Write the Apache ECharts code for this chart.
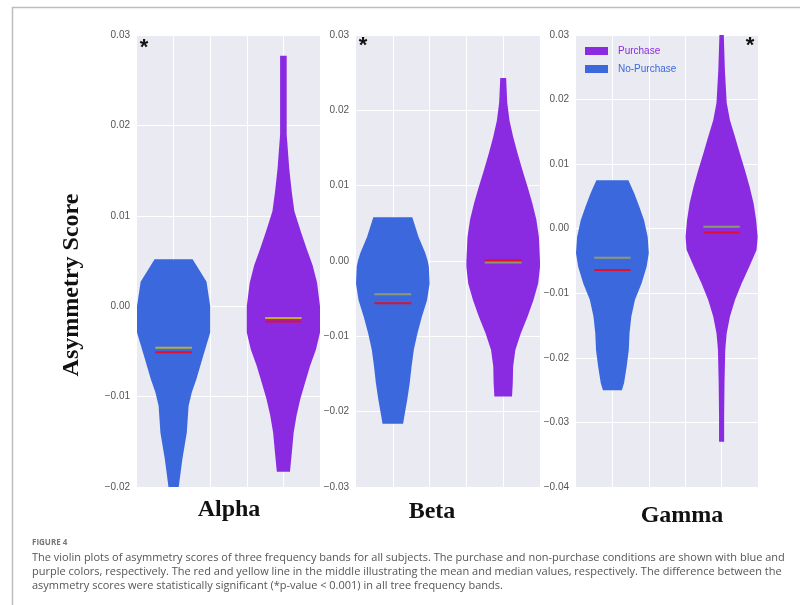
<!DOCTYPE html>
<html>
<head>
<meta charset="utf-8">
<script src="https://cdn.jsdelivr.net/npm/echarts@6/dist/echarts.min.js"></script>
<style>
html,body{margin:0;padding:0;background:#fff;}
#chart{width:800px;height:605px;}
</style>
</head>
<body>
<div id="chart"></div>
<script>
// ---- data ----
const bands = ['Alpha', 'Beta', 'Gamma'];
const groups = ['No-Purchase', 'Purchase'];
const yMin = [-0.02, -0.03, -0.04];
const yMax = [0.03, 0.03, 0.03];
const yStep = 0.01;

// violin profiles: [score, relative density width]
const alphaNoPurchase = [[0.0052,0.52],[0.0027,0.90],[0.0,1.0],[-0.0029,1.0],[-0.0059,0.78],[-0.0081,0.62],[-0.0095,0.50],[-0.011,0.41],[-0.014,0.36],[-0.0169,0.24],[-0.020,0.14]];
const alphaPurchase = [[0.0277,0.09],[0.019,0.09],[0.0152,0.16],[0.0126,0.23],[0.0105,0.30],[0.0082,0.48],[0.0063,0.64],[0.0045,0.80],[0.0026,0.92],[0.0,1.0],[-0.0029,1.0],[-0.0048,0.89],[-0.0066,0.73],[-0.0085,0.59],[-0.0103,0.46],[-0.0121,0.36],[-0.014,0.28],[-0.0162,0.23],[-0.0183,0.18]];
const betaNoPurchase = [[0.0058,0.53],[0.0032,0.70],[0.0011,0.88],[0.0,0.95],[-0.0008,0.98],[-0.003,1.0],[-0.0052,0.93],[-0.0074,0.79],[-0.0096,0.67],[-0.0118,0.57],[-0.014,0.51],[-0.0162,0.46],[-0.0185,0.39],[-0.0207,0.31],[-0.0216,0.28]];
const betaPurchase = [[0.0243,0.08],[0.021,0.11],[0.0187,0.17],[0.0165,0.27],[0.0143,0.39],[0.0121,0.52],[0.0099,0.66],[0.0077,0.79],[0.0055,0.90],[0.0032,0.97],[0.0,1.0],[-0.0008,1.0],[-0.003,0.95],[-0.0052,0.82],[-0.0074,0.66],[-0.0096,0.48],[-0.0118,0.33],[-0.014,0.27],[-0.0162,0.26],[-0.018,0.24]];
const gammaNoPurchase = [[0.0075,0.44],[0.0055,0.60],[0.0034,0.74],[0.0013,0.87],[-0.0013,0.97],[-0.0038,1.0],[-0.0059,0.94],[-0.0085,0.80],[-0.011,0.62],[-0.0136,0.52],[-0.0162,0.47],[-0.0188,0.45],[-0.0214,0.39],[-0.0239,0.32],[-0.025,0.26]];
const gammaPurchase = [[0.030,0.06],[0.0246,0.09],[0.0195,0.14],[0.0168,0.23],[0.0142,0.37],[0.0117,0.50],[0.0091,0.64],[0.0065,0.77],[0.0039,0.88],[0.0013,0.95],[-0.0013,0.99],[-0.0033,0.96],[-0.0059,0.76],[-0.0085,0.55],[-0.011,0.37],[-0.0136,0.23],[-0.0162,0.14],[-0.0188,0.10],[-0.0239,0.08],[-0.0291,0.07],[-0.033,0.07]];

const meanNoPurchase = [-0.0051, -0.0056, -0.0064];
const medianNoPurchase = [-0.0046, -0.0044, -0.0045];
const meanPurchase = [-0.0017, 0.0001, -0.0006];
const medianPurchase = [-0.0013, -0.0002, 0.0003];

// ---- layout / style ----
const profiles = [[alphaNoPurchase, alphaPurchase],[betaNoPurchase, betaPurchase],[gammaNoPurchase, gammaPurchase]];
const groupColors = {'No-Purchase':'#3b68dc', 'Purchase':'#8a2be2'};
const medianColors = ['#c2ad2a', '#8e9a76', '#8e9a70'];
const meanColor = '#e0102e';
const gridLefts = [137, 356, 576];
const gridWidths = [183, 184, 182];
const centers = [1, 4];

const grids = [], xAxes = [], yAxes = [], series = [];
bands.forEach((band, i) => {
  grids.push({left: gridLefts[i], top: 35, width: gridWidths[i], height: 452, show: true, backgroundColor: '#eaeaf2', borderWidth: 0});
  xAxes.push({type: 'value', gridIndex: i, min: 0, max: 5, interval: 1,
    axisLine: {show: false}, axisTick: {show: false}, axisLabel: {show: false},
    splitLine: {show: true, showMinLine: false, showMaxLine: false, lineStyle: {color: '#ffffff', width: 1}}});
  yAxes.push({type: 'value', gridIndex: i, min: yMin[i], max: yMax[i], interval: yStep,
    axisLine: {show: false}, axisTick: {show: false},
    axisLabel: {color: '#555555', fontSize: 10, fontFamily: 'Liberation Sans', margin: 7,
      formatter: v => (v < -1e-9 ? '\u2212' : '') + Math.abs(v).toFixed(2)},
    splitLine: {show: true, lineStyle: {color: '#ffffff', width: 1}}});
  groups.forEach((g, k) => {
    const prof = profiles[i][k];
    const c = centers[k];
    series.push({
      type: 'custom', name: g, xAxisIndex: i, yAxisIndex: i, clip: true,
      itemStyle: {color: groupColors[g]},
      data: [[c, prof[0][0]]],
      renderItem: (params, api) => {
        const right = prof.map(p => api.coord([c + p[1], p[0]]));
        const left = prof.slice().reverse().map(p => api.coord([c - p[1], p[0]]));
        return {type: 'polygon', shape: {points: right.concat(left)}, style: {fill: groupColors[g]}};
      }
    });
    const mean = k === 0 ? meanNoPurchase[i] : meanPurchase[i];
    const median = k === 0 ? medianNoPurchase[i] : medianPurchase[i];
    series.push({
      type: 'custom', name: g + ' stats', xAxisIndex: i, yAxisIndex: i, z: 5,
      data: [[c, median, 0], [c, mean, 1]],
      renderItem: (params, api) => {
        const x = api.value(0), v = api.value(1), isMean = api.value(2) === 1;
        const p1 = api.coord([x - 0.5, v]), p2 = api.coord([x + 0.5, v]);
        return {type: 'line', shape: {x1: p1[0], y1: p1[1], x2: p2[0], y2: p2[1]},
          style: {stroke: isMean ? meanColor : medianColors[i], lineWidth: 2}};
      }
    });
  });
});

const chart = echarts.init(document.getElementById('chart'), null, {renderer: 'canvas'});
chart.setOption({
  animation: false,
  backgroundColor: '#ffffff',
  grid: grids, xAxis: xAxes, yAxis: yAxes, series: series,
  legend: {
    orient: 'vertical', left: 580, top: 41, itemWidth: 23, itemHeight: 8, itemGap: 8,
    icon: 'rect',
    textStyle: {fontSize: 10, fontFamily: 'Liberation Sans', padding: [0, 0, 0, 5]},
    data: [
      {name: 'Purchase', textStyle: {color: groupColors['Purchase']}},
      {name: 'No-Purchase', textStyle: {color: groupColors['No-Purchase']}}
    ]
  },
  graphic: [
    {type: 'line', shape: {x1: 12, y1: 7.5, x2: 800, y2: 7.5}, style: {stroke: '#bdbdbd', lineWidth: 1.5}},
    {type: 'line', shape: {x1: 12.5, y1: 7, x2: 12.5, y2: 605}, style: {stroke: '#bdbdbd', lineWidth: 1.5}},
    {type: 'text', x: 72, y: 285, rotation: Math.PI / 2,
      style: {text: 'Asymmetry Score', font: 'bold 24px "Liberation Serif"', fill: '#111', textAlign: 'center', textVerticalAlign: 'middle'}},
    {type: 'text', x: 229, y: 510, style: {text: bands[0], font: 'bold 24px "Liberation Serif"', fill: '#111', textAlign: 'center', textVerticalAlign: 'middle'}},
    {type: 'text', x: 432, y: 512, style: {text: bands[1], font: 'bold 24px "Liberation Serif"', fill: '#111', textAlign: 'center', textVerticalAlign: 'middle'}},
    {type: 'text', x: 682, y: 516, style: {text: bands[2], font: 'bold 24px "Liberation Serif"', fill: '#111', textAlign: 'center', textVerticalAlign: 'middle'}},
    {type: 'text', x: 144, y: 48, style: {text: '*', font: 'bold 22px "Liberation Sans"', fill: '#111', textAlign: 'center', textVerticalAlign: 'middle'}},
    {type: 'text', x: 363, y: 46, style: {text: '*', font: 'bold 22px "Liberation Sans"', fill: '#111', textAlign: 'center', textVerticalAlign: 'middle'}},
    {type: 'text', x: 750, y: 46, style: {text: '*', font: 'bold 22px "Liberation Sans"', fill: '#111', textAlign: 'center', textVerticalAlign: 'middle'}},
    {type: 'text', x: 32, y: 543, style: {text: 'FIGURE 4', font: 'bold 8px "Open Sans"', fill: '#777', textVerticalAlign: 'middle'}},
    {type: 'text', x: 32, y: 558, style: {text: 'The violin plots of asymmetry scores of three frequency bands for all subjects. The purchase and non-purchase conditions are shown with blue and', font: '11px "Open Sans"', fill: '#555', textVerticalAlign: 'middle'}},
    {type: 'text', x: 32, y: 572, style: {text: 'purple colors, respectively. The red and yellow line in the middle illustrating the mean and median values, respectively. The difference between the', font: '11px "Open Sans"', fill: '#555', textVerticalAlign: 'middle'}},
    {type: 'text', x: 32, y: 586, style: {text: 'asymmetry scores were statistically significant (*p-value < 0.001) in all tree frequency bands.', font: '11px "Open Sans"', fill: '#555', textVerticalAlign: 'middle'}}
  ]
});
</script>
</body>
</html>
